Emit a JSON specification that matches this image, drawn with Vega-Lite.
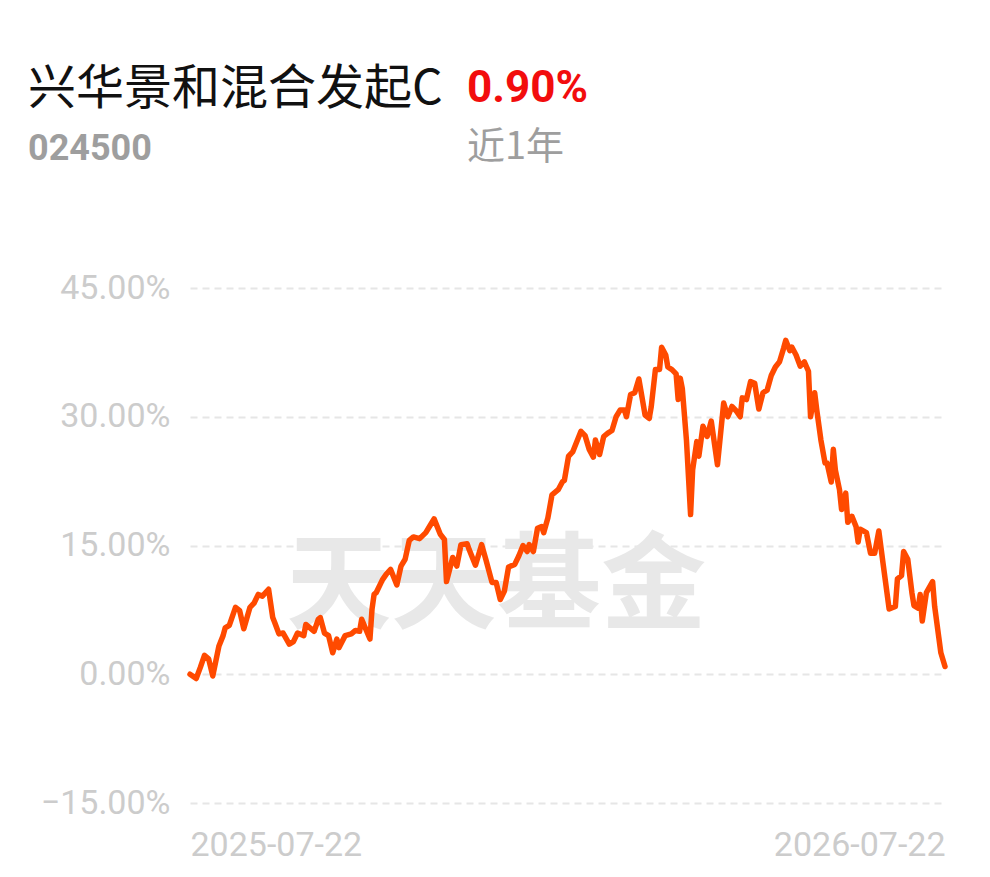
{
  "$schema": "https://vega.github.io/schema/vega-lite/v6.json",
  "background": "white",
  "padding": {"left": 28, "top": 66, "right": 0, "bottom": 0},
  "bounds": "flush",
  "spacing": 121,
  "vconcat": [
    {
      "hconcat": [
        {
          "width": 277,
          "height": 1,
          "data": {"values": []},
          "mark": {"type": "point", "opacity": 0},
          "encoding": {},
          "title": {
            "text": "兴华景和混合发起C",
            "subtitle": "024500",
            "anchor": "start",
            "orient": "top",
            "offset": 0,
            "dx": -162,
            "font": "Noto Sans CJK SC",
            "fontSize": 48,
            "fontWeight": "normal",
            "color": "#111111",
            "subtitleFont": "Roboto",
            "subtitleFontSize": 36,
            "subtitleFontWeight": "bold",
            "subtitleColor": "#9e9e9e",
            "subtitlePadding": 18
          }
        },
        {
          "width": 200,
          "height": 1,
          "data": {"values": []},
          "mark": {"type": "point", "opacity": 0},
          "encoding": {},
          "title": {
            "text": "0.90%",
            "subtitle": "近1年",
            "anchor": "start",
            "orient": "top",
            "offset": 0,
            "font": "Roboto",
            "fontSize": 44,
            "fontWeight": "bold",
            "color": "#f20d0d",
            "subtitleFont": "Noto Sans CJK SC",
            "subtitleFontSize": 38,
            "subtitleFontWeight": "normal",
            "subtitleColor": "#9e9e9e",
            "subtitlePadding": 18
          }
        }
      ],
      "spacing": 0,
      "bounds": "flush"
    },
    {
      "width": 755,
      "height": 515,
      "data": {
        "values": [
          {"date": "2025-07-22", "return": 0.0},
          {"date": "2025-07-25", "return": -0.5},
          {"date": "2025-07-27", "return": 0.8},
          {"date": "2025-07-29", "return": 2.2},
          {"date": "2025-07-31", "return": 1.8},
          {"date": "2025-08-02", "return": -0.2},
          {"date": "2025-08-05", "return": 3.3},
          {"date": "2025-08-07", "return": 4.5},
          {"date": "2025-08-08", "return": 5.4},
          {"date": "2025-08-10", "return": 5.7},
          {"date": "2025-08-13", "return": 7.8},
          {"date": "2025-08-15", "return": 7.4},
          {"date": "2025-08-17", "return": 5.3},
          {"date": "2025-08-20", "return": 7.8},
          {"date": "2025-08-22", "return": 8.3},
          {"date": "2025-08-24", "return": 9.3},
          {"date": "2025-08-26", "return": 9.1},
          {"date": "2025-08-29", "return": 9.9},
          {"date": "2025-08-31", "return": 6.6},
          {"date": "2025-09-01", "return": 6.0},
          {"date": "2025-09-03", "return": 4.7},
          {"date": "2025-09-05", "return": 4.8},
          {"date": "2025-09-08", "return": 3.5},
          {"date": "2025-09-10", "return": 3.8},
          {"date": "2025-09-12", "return": 4.8},
          {"date": "2025-09-15", "return": 4.5},
          {"date": "2025-09-16", "return": 5.8},
          {"date": "2025-09-20", "return": 5.0},
          {"date": "2025-09-22", "return": 6.4},
          {"date": "2025-09-23", "return": 6.6},
          {"date": "2025-09-25", "return": 4.8},
          {"date": "2025-09-27", "return": 4.5},
          {"date": "2025-09-29", "return": 2.5},
          {"date": "2025-10-01", "return": 4.1},
          {"date": "2025-10-02", "return": 3.1},
          {"date": "2025-10-05", "return": 4.5},
          {"date": "2025-10-08", "return": 4.7},
          {"date": "2025-10-10", "return": 5.1},
          {"date": "2025-10-12", "return": 5.0},
          {"date": "2025-10-13", "return": 6.4},
          {"date": "2025-10-17", "return": 4.1},
          {"date": "2025-10-18", "return": 7.6},
          {"date": "2025-10-19", "return": 9.3},
          {"date": "2025-10-20", "return": 9.5},
          {"date": "2025-10-23", "return": 11.0},
          {"date": "2025-10-25", "return": 11.7},
          {"date": "2025-10-27", "return": 12.2},
          {"date": "2025-10-30", "return": 10.4},
          {"date": "2025-11-01", "return": 12.6},
          {"date": "2025-11-03", "return": 13.4},
          {"date": "2025-11-05", "return": 15.6},
          {"date": "2025-11-07", "return": 16.0},
          {"date": "2025-11-10", "return": 15.8},
          {"date": "2025-11-13", "return": 16.5},
          {"date": "2025-11-15", "return": 17.3},
          {"date": "2025-11-17", "return": 18.1},
          {"date": "2025-11-20", "return": 16.3},
          {"date": "2025-11-22", "return": 15.7},
          {"date": "2025-11-23", "return": 10.8},
          {"date": "2025-11-26", "return": 13.6},
          {"date": "2025-11-28", "return": 12.6},
          {"date": "2025-11-30", "return": 15.1},
          {"date": "2025-12-03", "return": 15.2},
          {"date": "2025-12-04", "return": 14.5},
          {"date": "2025-12-07", "return": 12.7},
          {"date": "2025-12-10", "return": 15.1},
          {"date": "2025-12-12", "return": 13.4},
          {"date": "2025-12-15", "return": 10.7},
          {"date": "2025-12-17", "return": 10.7},
          {"date": "2025-12-19", "return": 8.7},
          {"date": "2025-12-21", "return": 9.7},
          {"date": "2025-12-23", "return": 12.5},
          {"date": "2025-12-26", "return": 12.8},
          {"date": "2025-12-28", "return": 13.8},
          {"date": "2025-12-30", "return": 15.0},
          {"date": "2026-01-01", "return": 14.3},
          {"date": "2026-01-02", "return": 15.1},
          {"date": "2026-01-04", "return": 14.3},
          {"date": "2026-01-06", "return": 17.0},
          {"date": "2026-01-08", "return": 17.2},
          {"date": "2026-01-09", "return": 16.5},
          {"date": "2026-01-11", "return": 18.2},
          {"date": "2026-01-13", "return": 20.9},
          {"date": "2026-01-16", "return": 21.5},
          {"date": "2026-01-18", "return": 22.4},
          {"date": "2026-01-19", "return": 22.6},
          {"date": "2026-01-21", "return": 25.4},
          {"date": "2026-01-23", "return": 25.9},
          {"date": "2026-01-27", "return": 28.3},
          {"date": "2026-01-29", "return": 27.8},
          {"date": "2026-01-31", "return": 26.2},
          {"date": "2026-02-02", "return": 25.3},
          {"date": "2026-02-03", "return": 27.3},
          {"date": "2026-02-05", "return": 25.6},
          {"date": "2026-02-07", "return": 27.7},
          {"date": "2026-02-09", "return": 28.1},
          {"date": "2026-02-11", "return": 28.4},
          {"date": "2026-02-13", "return": 30.0},
          {"date": "2026-02-15", "return": 30.8},
          {"date": "2026-02-17", "return": 30.8},
          {"date": "2026-02-18", "return": 30.0},
          {"date": "2026-02-20", "return": 32.6},
          {"date": "2026-02-22", "return": 32.8},
          {"date": "2026-02-24", "return": 34.4},
          {"date": "2026-02-27", "return": 30.2},
          {"date": "2026-03-01", "return": 29.8},
          {"date": "2026-03-02", "return": 31.2},
          {"date": "2026-03-04", "return": 35.5},
          {"date": "2026-03-06", "return": 35.5},
          {"date": "2026-03-07", "return": 38.1},
          {"date": "2026-03-09", "return": 37.2},
          {"date": "2026-03-10", "return": 35.8},
          {"date": "2026-03-12", "return": 35.5},
          {"date": "2026-03-14", "return": 35.0},
          {"date": "2026-03-15", "return": 32.0},
          {"date": "2026-03-16", "return": 34.5},
          {"date": "2026-03-17", "return": 33.3},
          {"date": "2026-03-19", "return": 27.3},
          {"date": "2026-03-21", "return": 18.6},
          {"date": "2026-03-22", "return": 23.8},
          {"date": "2026-03-24", "return": 27.1},
          {"date": "2026-03-25", "return": 25.4},
          {"date": "2026-03-27", "return": 28.9},
          {"date": "2026-03-29", "return": 27.7},
          {"date": "2026-03-31", "return": 29.5},
          {"date": "2026-04-03", "return": 24.4},
          {"date": "2026-04-06", "return": 31.6},
          {"date": "2026-04-08", "return": 30.0},
          {"date": "2026-04-10", "return": 31.2},
          {"date": "2026-04-12", "return": 30.7},
          {"date": "2026-04-14", "return": 30.0},
          {"date": "2026-04-15", "return": 32.2},
          {"date": "2026-04-17", "return": 32.0},
          {"date": "2026-04-19", "return": 34.1},
          {"date": "2026-04-21", "return": 33.9},
          {"date": "2026-04-23", "return": 30.9},
          {"date": "2026-04-25", "return": 32.8},
          {"date": "2026-04-27", "return": 33.1},
          {"date": "2026-04-29", "return": 34.8},
          {"date": "2026-05-01", "return": 35.8},
          {"date": "2026-05-03", "return": 36.4},
          {"date": "2026-05-05", "return": 38.0},
          {"date": "2026-05-06", "return": 38.9},
          {"date": "2026-05-08", "return": 37.7},
          {"date": "2026-05-09", "return": 38.1},
          {"date": "2026-05-11", "return": 37.2},
          {"date": "2026-05-13", "return": 35.9},
          {"date": "2026-05-15", "return": 36.4},
          {"date": "2026-05-17", "return": 35.3},
          {"date": "2026-05-18", "return": 30.0},
          {"date": "2026-05-20", "return": 32.8},
          {"date": "2026-05-21", "return": 30.8},
          {"date": "2026-05-23", "return": 27.3},
          {"date": "2026-05-25", "return": 24.6},
          {"date": "2026-05-26", "return": 24.6},
          {"date": "2026-05-28", "return": 22.4},
          {"date": "2026-05-29", "return": 26.2},
          {"date": "2026-05-30", "return": 23.8},
          {"date": "2026-06-01", "return": 21.5},
          {"date": "2026-06-02", "return": 19.2},
          {"date": "2026-06-04", "return": 21.1},
          {"date": "2026-06-05", "return": 17.7},
          {"date": "2026-06-07", "return": 18.4},
          {"date": "2026-06-09", "return": 17.2},
          {"date": "2026-06-10", "return": 15.4},
          {"date": "2026-06-11", "return": 16.9},
          {"date": "2026-06-14", "return": 16.5},
          {"date": "2026-06-16", "return": 14.1},
          {"date": "2026-06-18", "return": 14.1},
          {"date": "2026-06-20", "return": 16.7},
          {"date": "2026-06-22", "return": 13.0},
          {"date": "2026-06-25", "return": 7.6},
          {"date": "2026-06-28", "return": 7.9},
          {"date": "2026-06-29", "return": 11.1},
          {"date": "2026-07-01", "return": 11.5},
          {"date": "2026-07-02", "return": 14.3},
          {"date": "2026-07-04", "return": 13.4},
          {"date": "2026-07-06", "return": 9.5},
          {"date": "2026-07-07", "return": 8.0},
          {"date": "2026-07-09", "return": 7.7},
          {"date": "2026-07-10", "return": 9.3},
          {"date": "2026-07-11", "return": 6.2},
          {"date": "2026-07-13", "return": 9.5},
          {"date": "2026-07-16", "return": 10.8},
          {"date": "2026-07-17", "return": 7.9},
          {"date": "2026-07-19", "return": 4.3},
          {"date": "2026-07-20", "return": 2.5},
          {"date": "2026-07-22", "return": 0.9}
        ]
      },
      "layer": [
        {
          "data": {"values": [{"label": "天天基金"}]},
          "mark": {
            "type": "text",
            "font": "Noto Sans CJK SC",
            "fontSize": 105,
            "fontWeight": "bold",
            "color": "#e8e8e8",
            "align": "center",
            "baseline": "middle"
          },
          "encoding": {
            "text": {"field": "label"},
            "x": {"datum": {"year": 2025, "month": 12, "date": 17, "utc": true}, "type": "temporal"},
            "y": {"datum": 10, "type": "quantitative"}
          }
        },
        {
          "mark": {
            "type": "line",
            "color": "#ff4a00",
            "strokeWidth": 5.5,
            "strokeJoin": "round",
            "strokeCap": "round"
          },
          "encoding": {
            "x": {
              "field": "date",
              "type": "temporal",
              "scale": {
                "type": "utc",
                "nice": false,
                "domain": [
                  {"year": 2025, "month": 7, "date": 22, "utc": true},
                  {"year": 2026, "month": 7, "date": 22, "utc": true}
                ]
              },
              "axis": {
                "title": null,
                "grid": false,
                "labelFlush": true,
                "labelPadding": 25,
                "values": [
                  {"year": 2025, "month": 7, "date": 22, "utc": true},
                  {"year": 2026, "month": 7, "date": 22, "utc": true}
                ],
                "labelExpr": "utcFormat(datum.value, '%Y-%m-%d')"
              }
            },
            "y": {
              "field": "return",
              "type": "quantitative",
              "scale": {"domain": [-15, 45], "nice": false, "zero": false},
              "axis": {
                "title": null,
                "grid": true,
                "gridDash": [7, 5],
                "gridColor": "#e6e6e6",
                "gridWidth": 2,
                "labelPadding": 20,
                "values": [-15, 0, 15, 30, 45],
                "labelExpr": "format(datum.value, '.2f') + '%'"
              }
            }
          }
        }
      ]
    }
  ],
  "config": {
    "view": {"stroke": null},
    "axis": {
      "domain": false,
      "ticks": false,
      "tickSize": 0,
      "labelFont": "Roboto",
      "labelFontSize": 34,
      "labelColor": "#cccccc"
    }
  }
}
